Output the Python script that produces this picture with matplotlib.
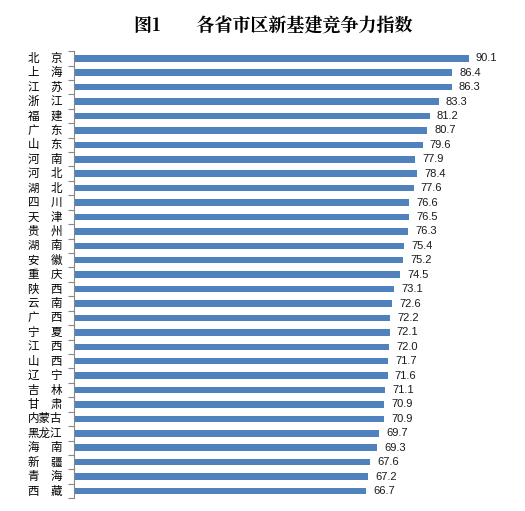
import matplotlib
matplotlib.use('Agg')
import matplotlib.pyplot as plt

plt.rcParams['font.family'] = ['Noto Sans CJK SC', 'DejaVu Sans']

# 省市区名称（两字名称中间用全角空格对齐）
regions = ['北　京', '上　海', '江　苏', '浙　江', '福　建', '广　东', '山　东',
           '河　南', '河　北', '湖　北', '四　川', '天　津', '贵　州', '湖　南',
           '安　徽', '重　庆', '陕　西', '云　南', '广　西', '宁　夏', '江　西',
           '山　西', '辽　宁', '吉　林', '甘　肃', '内蒙古', '黑龙江', '海　南',
           '新　疆', '青　海', '西　藏']

# 新基建竞争力指数
scores = [90.1, 86.4, 86.3, 83.3, 81.2, 80.7, 79.6,
          77.9, 78.4, 77.6, 76.6, 76.5, 76.3, 75.4,
          75.2, 74.5, 73.1, 72.6, 72.2, 72.1, 72.0,
          71.7, 71.6, 71.1, 70.9, 70.9, 69.7, 69.3,
          67.6, 67.2, 66.7]

title = '图1　　各省市区新基建竞争力指数'

fig = plt.figure(figsize=(5.25, 5.11), dpi=100)
ax = fig.add_axes([0.141, 0.025, 0.834, 0.875])

pos = list(range(len(regions)))
ax.barh(pos, scores, height=0.45, color='#4F81BD')
for p, v in zip(pos, scores):
    ax.text(v + 1.6, p, f'{v:.1f}', va='center', ha='left', fontsize=8,
            family=['Liberation Sans', 'DejaVu Sans'], color='#1a1a1a')

ax.set_xlim(0, 100)
ax.set_ylim(len(regions) - 0.5, -0.5)

# 类别标签放在刻度之间，刻度线放在类别边界
ax.set_yticks([p + 0.5 for p in pos[:-1]] + [-0.5, len(regions) - 0.5])
ax.set_yticklabels([])
ax.tick_params(axis='y', length=4, color='#888888', width=0.8)
for p, name in zip(pos, regions):
    ax.text(-2.7, p, name, ha='right', va='center', fontsize=8.3,
            transform=ax.transData, clip_on=False)

ax.set_xticks([])
for s in ['top', 'right', 'bottom']:
    ax.spines[s].set_visible(False)
ax.spines['left'].set_color('#888888')
ax.spines['left'].set_linewidth(0.8)

fig.text(0.52, 0.948, title, ha='center', va='center', fontsize=13,
         fontweight='bold', family=['Noto Serif CJK SC', 'Noto Sans CJK SC', 'DejaVu Sans'])

fig.savefig('out.png', dpi=100)
